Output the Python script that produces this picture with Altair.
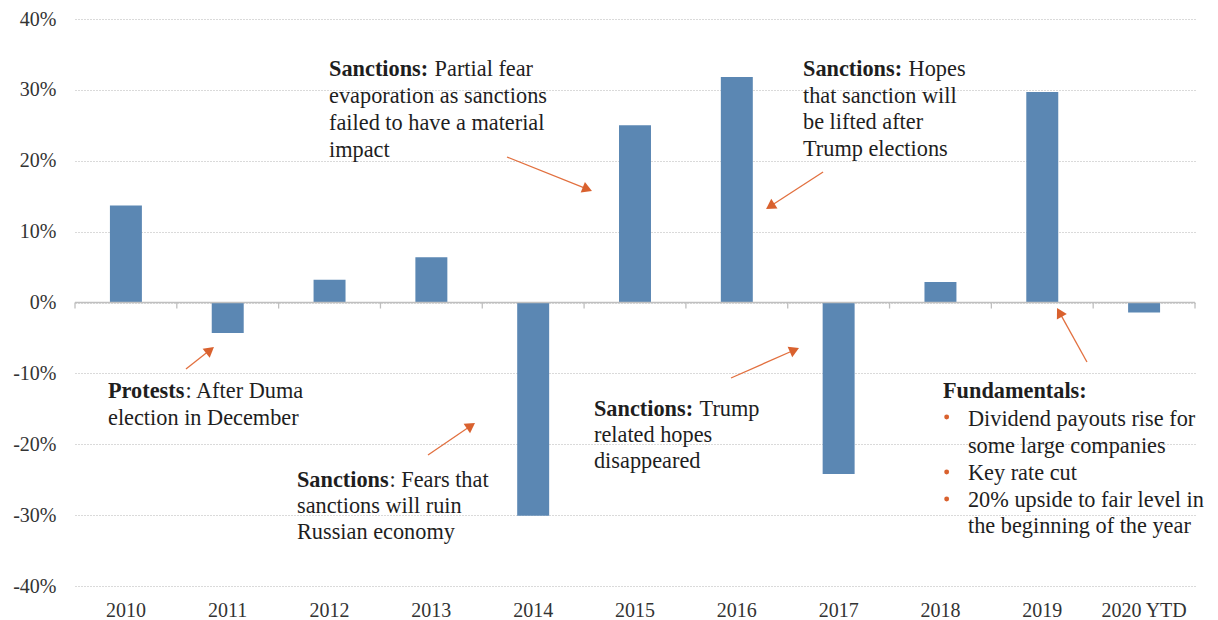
import math
import altair as alt
import pandas as pd

# ---------------- data ----------------
years = ["2010", "2011", "2012", "2013", "2014", "2015", "2016", "2017", "2018", "2019", "2020 YTD"]
returns = [13.7, -4.3, 3.2, 6.4, -30.1, 25.0, 31.8, -24.2, 2.9, 29.7, -1.4]   # percent

y_ticks = [-40, -30, -20, -10, 0, 10, 20, 30, 40]
band_edges = list(range(12))  # category boundaries (0..11 in category units)

# annotation positions: u = position in category units (0..11), v = value in percent
bold_text = ["Sanctions:", "Sanctions:", "Protests", "Sanctions", "Sanctions:", "Fundamentals:"]
bold_u = [2.495, 7.150, 0.324, 2.180, 5.097, 8.525]
bold_v = [31.96, 31.96, -13.47, -26.03, -16.01, -13.47]

reg_text = [
    "Partial fear", "evaporation as sanctions", "failed to have a material", "impact",
    "Hopes", "that sanction will", "be lifted after", "Trump elections",
    ": After Duma", "election in December",
    ": Fears that", "sanctions will ruin", "Russian economy",
    "Trump", "related hopes", "disappeared",
    "Dividend payouts rise for", "some large companies", "Key rate cut",
    "20% upside to fair level in", "the beginning of the year",
]
reg_u = [
    3.532, 2.495, 2.495, 2.495,
    8.187, 7.150, 7.150, 7.150,
    1.085, 0.324,
    3.089, 2.180, 2.180,
    6.134, 5.097, 5.097,
    8.770, 8.770, 8.770, 8.770, 8.770,
]
reg_v = [
    31.96, 28.15, 24.34, 20.53,
    31.96, 28.15, 24.48, 20.67,
    -13.47, -17.28,
    -26.03, -29.70, -33.37,
    -16.01, -19.68, -23.35,
    -17.42, -21.23, -25.04, -28.85, -32.52,
]

bullet_u = [8.561, 8.561, 8.561]
bullet_v = [-16.15, -23.92, -27.73]

arrow_tail_u = [4.243, 7.347, 1.090, 3.467, 6.443, 9.939]
arrow_tail_v = [20.53, 18.41, -9.38, -21.52, -10.65, -8.39]
arrow_tip_u = [5.078, 6.787, 1.365, 3.929, 7.111, 9.645]
arrow_tip_v = [15.73, 13.19, -6.28, -17.00, -6.42, -0.78]

# ---------------- styling ----------------
W, H = 1120, 567
FONT = "Liberation Serif"
BAR = "#5B87B3"
ORANGE = "#E2703F"
ORANGE_HEAD = "#D9612E"
GRID = "#B4B4B4"
AXISLINE = "#BFBFBF"
TXT = "#1E1E1E"
FS = 22.3

PX_U = W / 11.0
PX_V = H / 80.0
HEAD = 5.0  # px from tip to triangle centre

rows = []
for tu, tv, pu, pv in zip(arrow_tail_u, arrow_tail_v, arrow_tip_u, arrow_tip_v):
    dx = (pu - tu) * PX_U
    dy = -(pv - tv) * PX_V
    L = math.hypot(dx, dy)
    ang = math.degrees(math.atan2(dx, -dy)) % 360
    hu = pu - HEAD * dx / L / PX_U
    hv = pv + HEAD * dy / L / PX_V
    rows.append({"tu": tu, "tv": tv, "hu": hu, "hv": hv, "ang": ang})
arrow_df = pd.DataFrame(rows)

bars_df = pd.DataFrame({"year": years, "value": returns})
bold_df = pd.DataFrame({"t": bold_text, "u": bold_u, "v": bold_v})
reg_df = pd.DataFrame({"t": reg_text, "u": reg_u, "v": reg_v})
bullet_df = pd.DataFrame({"u": bullet_u, "v": bullet_v})
edge_df = pd.DataFrame({"u": band_edges})

yscale = alt.Scale(domain=[-40, 40], nice=False, zero=False)
uscale = alt.Scale(domain=[0, 11], nice=False, zero=False)

bars = alt.Chart(bars_df).mark_bar(color=BAR).encode(
    x=alt.X("year:N", sort=years,
            scale=alt.Scale(paddingInner=0.686, paddingOuter=0.343),
            axis=alt.Axis(title=None, labelAngle=0, domain=False, ticks=False,
                          labelFont=FONT, labelFontSize=20, labelColor="#333333",
                          labelBaseline="alphabetic", labelPadding=30)),
    y=alt.Y("value:Q", scale=yscale,
            axis=alt.Axis(title=None, values=y_ticks, labelExpr="datum.value + '%'",
                          domain=False, ticks=False, labelFont=FONT, labelFontSize=20,
                          labelColor="#333333", labelPadding=19,
                          grid=True, gridColor=GRID, gridDash=[1, 2], gridWidth=1)),
)

# zero line (category axis line) with tick marks at the category boundaries
zero_line = alt.Chart(edge_df).mark_rule(color=AXISLINE, strokeWidth=1.3).encode(
    x=alt.X("min(u):Q", scale=uscale, axis=None),
    x2="max(u):Q",
    y=alt.datum(0, scale=yscale),
)
zero_ticks = alt.Chart(edge_df).mark_rule(color=AXISLINE, strokeWidth=1.3).encode(
    x=alt.X("u:Q", scale=uscale, axis=None),
    y=alt.datum(0),
    y2=alt.datum(-0.85),
)

arrow_lines = alt.Chart(arrow_df).mark_rule(color=ORANGE, strokeWidth=1.3).encode(
    x=alt.X("tu:Q", scale=uscale, axis=None),
    y=alt.Y("tv:Q", scale=yscale),
    x2="hu:Q",
    y2="hv:Q",
)

arrow_heads = alt.Chart(arrow_df).mark_point(shape="triangle-up", filled=True, size=130,
                                             color=ORANGE_HEAD, opacity=1).encode(
    x=alt.X("hu:Q", scale=uscale, axis=None),
    y=alt.Y("hv:Q", scale=yscale),
    angle=alt.Angle("ang:Q", scale=None),
)

bold_txt = alt.Chart(bold_df).mark_text(align="left", baseline="alphabetic", font=FONT,
                                        fontSize=FS, fontWeight="bold", color=TXT).encode(
    x=alt.X("u:Q", scale=uscale, axis=None),
    y=alt.Y("v:Q", scale=yscale),
    text="t:N",
)

reg_txt = alt.Chart(reg_df).mark_text(align="left", baseline="alphabetic", font=FONT,
                                      fontSize=FS, color=TXT).encode(
    x=alt.X("u:Q", scale=uscale, axis=None),
    y=alt.Y("v:Q", scale=yscale),
    text="t:N",
)

bullets = alt.Chart(bullet_df).mark_circle(size=24, color=ORANGE_HEAD, opacity=1).encode(
    x=alt.X("u:Q", scale=uscale, axis=None),
    y=alt.Y("v:Q", scale=yscale),
)

aux = alt.layer(zero_line, zero_ticks, arrow_lines, arrow_heads, bold_txt, reg_txt, bullets)

chart = alt.layer(bars, aux).resolve_scale(x="independent").properties(
    width=W, height=H,
    autosize=alt.AutoSizeParams(type="none"),
    padding={"left": 67, "top": 11, "right": 14, "bottom": 34},
    background="white",
).configure_view(strokeWidth=0)

chart.save("out.html", embed_options={"renderer": "svg", "actions": False})
